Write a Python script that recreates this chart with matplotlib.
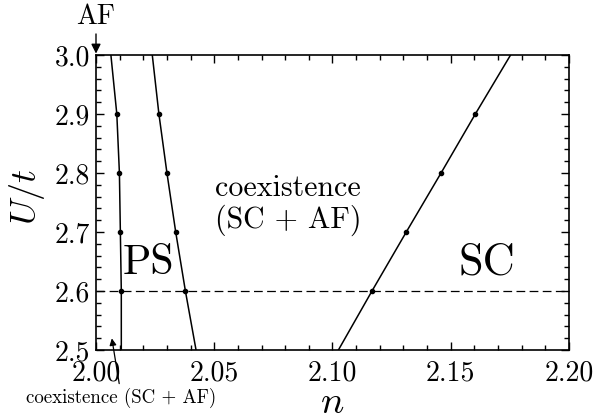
import matplotlib
matplotlib.use("Agg")
import matplotlib.pyplot as plt
from matplotlib.ticker import MultipleLocator, FormatStrFormatter

plt.rcParams['font.family'] = 'serif'
plt.rcParams['font.serif'] = ['cmr10', 'DejaVu Serif']
plt.rcParams['mathtext.fontset'] = 'cm'
plt.rcParams['axes.formatter.use_mathtext'] = True

# phase boundaries
U_vals = [2.5, 2.6, 2.7, 2.8, 2.9, 3.0]
n_af = [2.0107, 2.0107, 2.0103, 2.0099, 2.0088, 2.0063]    # AF / coexistence edge
n_ps = [2.0423, 2.0378, 2.0337, 2.0300, 2.0266, 2.0238]    # PS / coexistence edge
n_sc = [2.1025, 2.1167, 2.1312, 2.1459, 2.1604, 2.1753]    # coexistence / SC edge
U_dash = 2.6

fig = plt.figure(figsize=(5.97, 4.16), dpi=100)
ax = fig.add_axes([0.1608, 0.1587, 0.7923, 0.7091])

for n_line in (n_af, n_ps, n_sc):
    ax.plot(n_line, U_vals, color='black', lw=1.1)
    ax.plot(n_line[1:-1], U_vals[1:-1], 'o', color='black', ms=3)
ax.axhline(U_dash, color='black', lw=0.9, ls=(0, (7, 3.5)))

ax.set_xlim(2.0, 2.2)
ax.set_ylim(2.5, 3.0)
ax.xaxis.set_major_locator(MultipleLocator(0.05))
ax.xaxis.set_minor_locator(MultipleLocator(0.01))
ax.yaxis.set_major_locator(MultipleLocator(0.1))
ax.yaxis.set_minor_locator(MultipleLocator(0.02))
ax.xaxis.set_major_formatter(FormatStrFormatter('%.2f'))
ax.yaxis.set_major_formatter(FormatStrFormatter('%.1f'))
ax.tick_params(which='both', direction='in', top=True, right=True, labelsize=20, width=1.0)
ax.tick_params(which='major', length=6)
ax.tick_params(which='minor', length=3.5)
ax.tick_params(axis='x', which='major', pad=7)
ax.tick_params(axis='y', which='major', pad=4)
for s in ax.spines.values():
    s.set_linewidth(1.2)

ax.set_xlabel(r'$n$', fontsize=28, va='center')
ax.xaxis.set_label_coords(0.5, -0.18)
ax.set_ylabel(r'$U/t$', fontsize=26)
ax.yaxis.set_label_coords(-0.104, 0.519)

ax.text(2.0812, 2.774, 'coexistence', fontsize=21.5, ha='center', va='center')
ax.text(2.0812, 2.72, '(SC + AF)', fontsize=21.5, ha='center', va='center')
ax.text(2.022, 2.647, 'PS', fontsize=30, ha='center', va='center')
ax.text(2.1653, 2.647, 'SC', fontsize=32, ha='center', va='center')

ax.annotate('AF', xy=(2.0, 3.0), xytext=(2.0, 3.065), fontsize=20,
            ha='center', va='center', annotation_clip=False,
            arrowprops=dict(arrowstyle='-|>', color='black', lw=1.0,
                            mutation_scale=14, shrinkA=1, shrinkB=1))
ax.annotate('coexistence (SC + AF)', xy=(2.0066, 2.522), xytext=(2.0108, 2.436),
            fontsize=13.6, ha='center', va='top', annotation_clip=False,
            arrowprops=dict(arrowstyle='-|>', color='black', lw=0.9,
                            mutation_scale=10, shrinkA=1, shrinkB=1))

fig.savefig('out.png', dpi=100)
